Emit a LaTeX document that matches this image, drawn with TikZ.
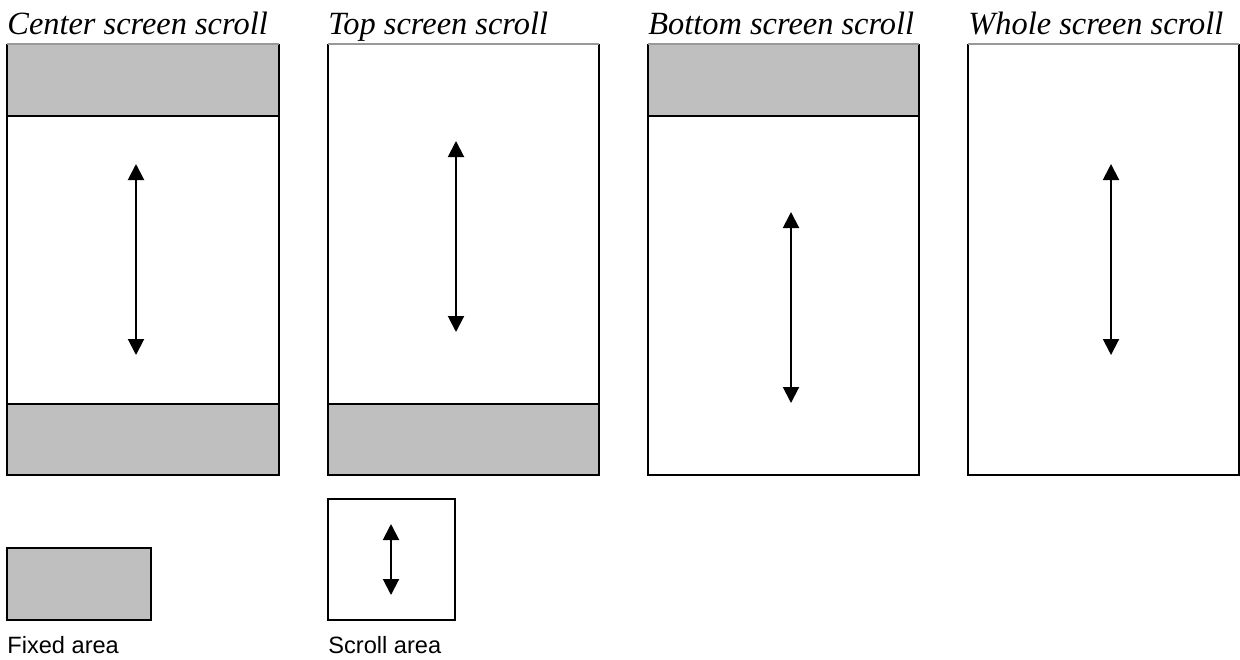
\documentclass[tikz,border=0pt]{standalone}
\usepackage{fontspec}
\setmainfont{Liberation Serif}
\newfontfamily\labelsans{Liberation Sans}
\usetikzlibrary{arrows.meta}
\definecolor{fixgray}{RGB}{191,191,191}
\tikzset{
  frame/.style={draw=black,line width=1pt},
  fixed/.style={fill=fixgray,draw=black,line width=1pt},
  divider/.style={draw=black,line width=1.4pt},
  topedge/.style={draw=gray!80,line width=0.6pt},
  scrollarrow/.style={line width=1pt,{Triangle[width=8pt,length=8pt]}-{Triangle[width=8pt,length=8pt]}},
  title/.style={anchor=base west,inner sep=0pt,font=\fontsize{16.2}{19}\selectfont\itshape},
  legendlabel/.style={anchor=base west,inner sep=0pt,font=\labelsans\fontsize{11.8}{14}\selectfont}
}
\begin{document}
\begin{tikzpicture}[x=0.5pt,y=-0.5pt]
\useasboundingbox (0,0) rectangle (1240,659);
% titles
\node[title] (t1) at (7,34) {Center screen scroll};
\node[title] (t2) at (328,34) {Top screen scroll};
\node[title] (t3) at (648,34) {Bottom screen scroll};
\node[title] (t4) at (968,34) {Whole screen scroll};
% panel 1: center
\fill[fixgray] (7,44) rectangle (279,116);
\fill[fixgray] (7,404) rectangle (279,475);
\draw[frame] (7,44) -- (7,475) -- (279,475) -- (279,44);
\draw[topedge] (7,44) -- (279,44);
\draw[divider] (7,116) -- (279,116);
\draw[divider] (7,404) -- (279,404);
\coordinate (a1t) at (136,164);
\coordinate (a1b) at (136,355);
\draw[scrollarrow] (a1t) -- (a1b);
% panel 2: top
\fill[fixgray] (328,404) rectangle (599,475);
\draw[frame] (328,44) -- (328,475) -- (599,475) -- (599,44);
\draw[topedge] (328,44) -- (599,44);
\draw[divider] (328,404) -- (599,404);
\coordinate (a2t) at (456,141);
\coordinate (a2b) at (456,332);
\draw[scrollarrow] (a2t) -- (a2b);
% panel 3: bottom
\fill[fixgray] (648,44) rectangle (919,116);
\draw[frame] (648,44) -- (648,475) -- (919,475) -- (919,44);
\draw[topedge] (648,44) -- (919,44);
\draw[divider] (648,116) -- (919,116);
\coordinate (a3t) at (791,212);
\coordinate (a3b) at (791,403);
\draw[scrollarrow] (a3t) -- (a3b);
% panel 4: whole
\draw[frame] (968,44) -- (968,475) -- (1239,475) -- (1239,44);
\draw[topedge] (968,44) -- (1239,44);
\coordinate (a4t) at (1111,164);
\coordinate (a4b) at (1111,355);
\draw[scrollarrow] (a4t) -- (a4b);
% legend
\draw[fixed] (7,548) rectangle (151,620);
\node[legendlabel] (l1) at (7,653) {Fixed area};
\draw[frame] (328,499) rectangle (455,620);
\coordinate (a5t) at (391,524);
\coordinate (a5b) at (391,595);
\draw[scrollarrow] (a5t) -- (a5b);
\node[legendlabel] (l2) at (328,653) {Scroll area};
\end{tikzpicture}
\end{document}
